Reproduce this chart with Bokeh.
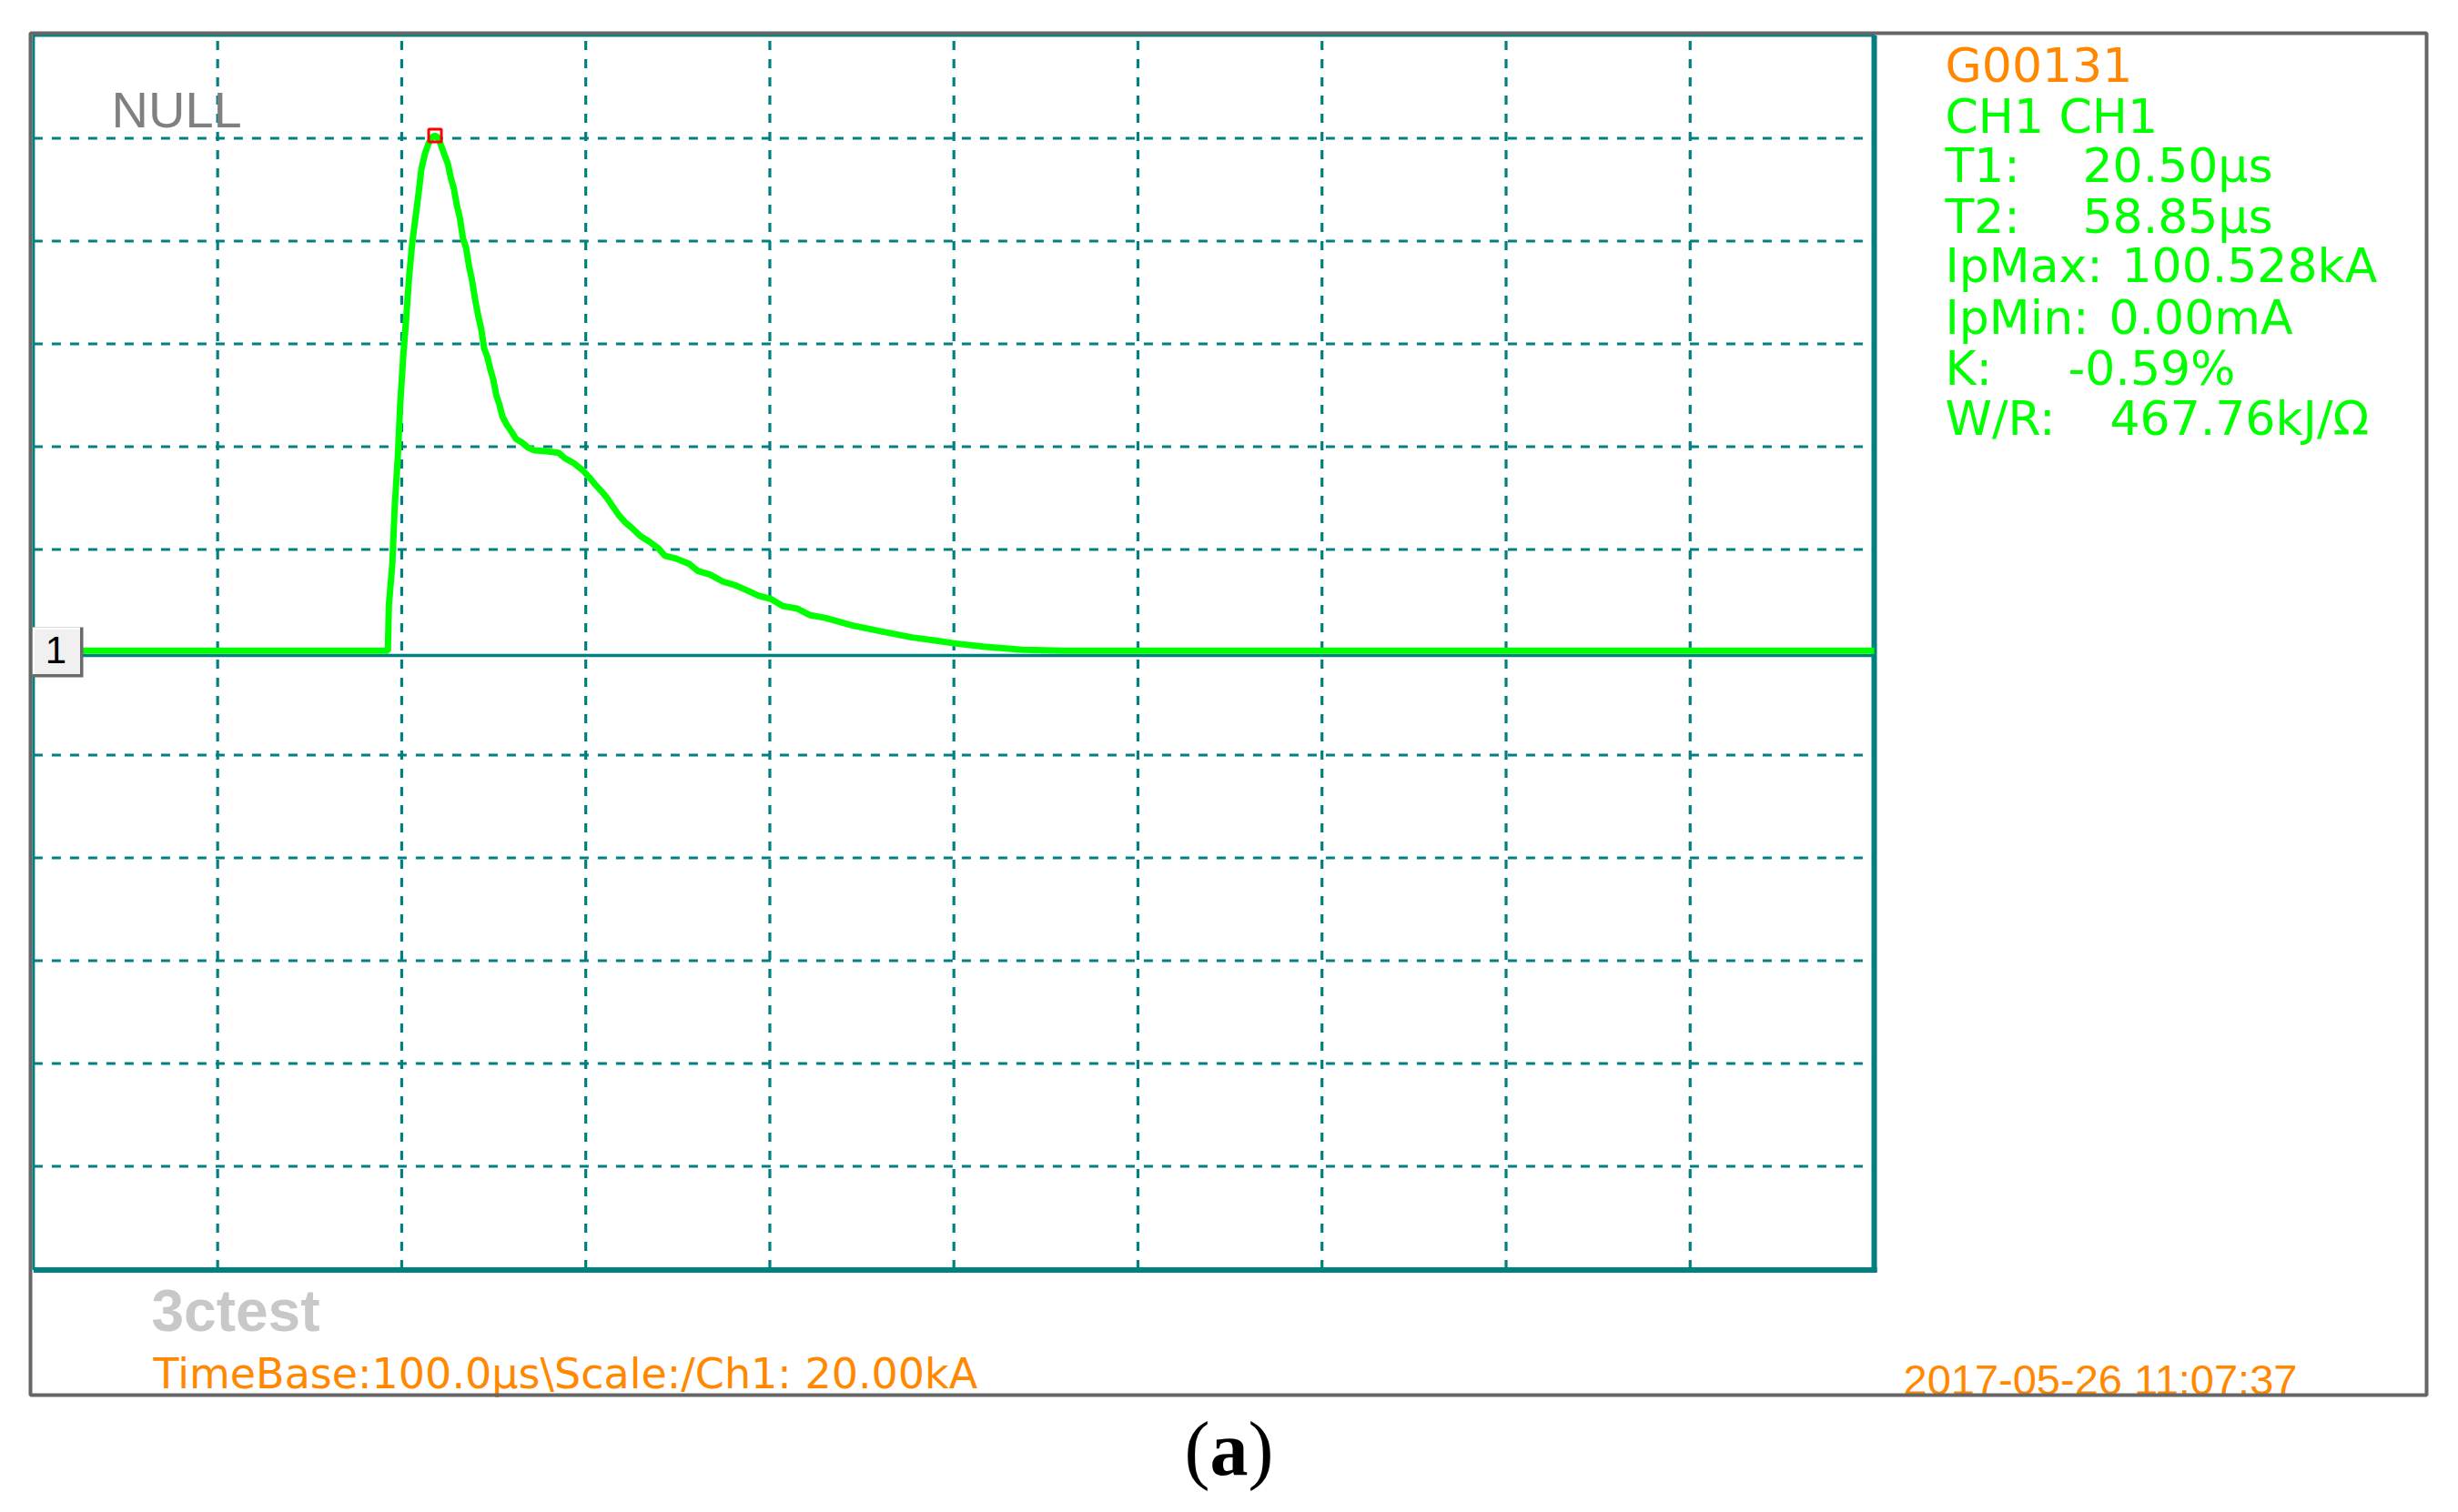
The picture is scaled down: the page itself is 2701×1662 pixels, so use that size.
from bokeh.plotting import figure
from bokeh.models import Range1d
from bokeh.core.properties import value
from bokeh.embed import file_html
from bokeh.resources import INLINE

# ---------------- data ----------------
time_us = [0.0, 192.5, 193.0, 194.9, 196.2, 197.9, 199.2, 200.8, 202.5, 204.1,
           205.8, 207.8, 209.4, 210.7, 212.7, 214.7, 216.8, 218.1, 219.3, 220.9,
           222.9, 225.1, 226.7, 228.3, 230.0, 231.6, 233.3, 234.9, 236.6, 238.2,
           239.9, 241.5, 243.2, 244.8, 246.5, 248.1, 249.8, 251.4, 253.0, 254.7,
           257.2, 259.7, 262.1, 265.4, 268.7, 272.0, 278.6, 285.2, 288.5, 293.4,
           298.4, 301.7, 305.0, 308.3, 311.6, 314.8, 318.1, 321.4, 324.7, 329.7,
           334.6, 339.5, 342.9, 349.4, 356.1, 361.0, 367.6, 374.2, 380.8, 387.3,
           393.9, 400.5, 407.1, 414.8, 422.0, 430.0, 445.1, 460.2, 477.2, 489.5,
           501.1, 515.9, 537.3, 560.0, 1000.0]
current_kA = [0.3, 0.3, 9.0, 17.2, 28.3, 38.1, 48.3, 57.4, 65.2, 73.4,
              79.9, 85.4, 90.0, 94.0, 97.1, 99.1, 100.3, 100.5, 100.3, 99.1,
              97.1, 95.0, 92.3, 90.3, 86.9, 84.5, 80.5, 78.8, 75.1, 72.4,
              68.6, 65.6, 62.9, 59.1, 57.5, 55.1, 53.0, 50.0, 48.3, 45.9,
              44.2, 42.9, 41.5, 40.8, 39.8, 39.3, 39.1, 38.8, 37.8, 36.8,
              35.4, 34.1, 32.7, 31.4, 30.0, 28.3, 26.6, 25.3, 24.3, 22.6,
              21.5, 20.2, 18.8, 18.2, 17.2, 15.8, 15.1, 13.8, 13.1, 12.1,
              11.0, 10.4, 9.0, 8.5, 7.2, 6.7, 5.2, 4.1, 2.9, 2.3,
              1.7, 1.1, 0.5, 0.3, 0.3]
peak_time_us = [218.1]
peak_kA = [100.528]

grid_time_us = [100, 200, 300, 400, 500, 600, 700, 800, 900]
grid_kA = [-100, -80, -60, -40, -20, 20, 40, 60, 80, 100]
time_span = [0, 1000]
kA_span = [-120, 120]

info_labels = ["T1:", "T2:", "IpMax:", "IpMin:", "K:", "W/R:"]
info_values = ["20.50\u00b5s", "58.85\u00b5s", "100.528kA", "0.00mA", "-0.59%", "467.76kJ/\u03a9"]

# ---------------- geometry (pixels of the picture) ----------------
W, H = 2693, 1654
OFF = 0
X0, SX = 36.4, 2.0226   # px of t=0, px per microsecond
Y0, SY = 716.5, 5.65    # px of 0 kA, px per kA
KB = 0.33               # baseline correction (fraction of font size)


def dx(X):
    return (X - X0) / SX


def dy(Y):
    return (Y0 - Y) / SY


TEAL = "#008080"
GREEN = "#00FF00"
ORANGE = "#FF8800"

p = figure(frame_width=W, frame_height=H, min_border=0,
           x_range=Range1d(dx(OFF), dx(OFF + W)),
           y_range=Range1d(dy(OFF + H), dy(OFF)),
           x_axis_location=None, y_axis_location=None,
           toolbar_location=None, output_backend="svg",
           outline_line_color=None,
           background_fill_color="white", border_fill_color="white")
p.grid.visible = False

# dashed graticule
n = len(grid_time_us)
p.segment(x0=grid_time_us, y0=[kA_span[0]] * n, x1=grid_time_us, y1=[kA_span[1]] * n,
          line_color=TEAL, line_width=3.2, line_dash="10 10")
m = len(grid_kA)
p.segment(x0=[time_span[0]] * m, y0=grid_kA, x1=[time_span[1]] * m, y1=grid_kA,
          line_color=TEAL, line_width=3.2, line_dash="10 10")

# zero reference line
base = dy(720)
p.line(x=time_span, y=[base, base], line_color=TEAL, line_width=3.4)

# scope frame
p.quad(left=[time_span[0]], right=[time_span[1]], bottom=[kA_span[0]], top=[kA_span[1]],
       fill_color=None, line_color=TEAL, line_width=3)
p.line(x=[time_span[0], dx(2062)], y=[dy(1395.5)] * 2, line_color=TEAL, line_width=6)
p.line(x=[dx(2059)] * 2, y=[kA_span[1], dy(1398)], line_color=TEAL, line_width=6)

# waveform
p.line(time_us, current_kA, line_color=GREEN, line_width=7)
p.scatter(peak_time_us, peak_kA, marker="square", size=14, fill_color=None,
          line_color="#FF0000", line_width=3)

# channel marker "1"
p.quad(left=[dx(35)], right=[dx(91)], top=[dy(689)], bottom=[dy(744)],
       fill_color="#6A6A6A", line_color=None)
p.quad(left=[dx(35)], right=[dx(87.5)], top=[dy(689)], bottom=[dy(740.5)],
       fill_color="white", line_color=None)
p.quad(left=[dx(37.5)], right=[dx(87.5)], top=[dy(691.5)], bottom=[dy(740.5)],
       fill_color="#F0F0F0", line_color=None)


def txt(X, Y, s, size, color, font="DejaVu Sans", align="left", style="normal"):
    p.text(x=[dx(X)], y=[dy(Y - KB * size)], text=[s], text_font=value(font),
           text_font_size=f"{size}px", text_color=color, text_align=align,
           text_baseline="alphabetic", text_font_style=style)


txt(61, 728, "1", 42, "black", font="Liberation Sans", align="center")
txt(122, 138, "NULL", 56, "#808080", font="Liberation Sans")

# right info panel
txt(2137, 89, "G00131", 52, ORANGE)
txt(2137, 145, "CH1 CH1", 52, GREEN)
baselines = [199, 255, 309, 366, 422, 477]
value_x = [2288, 2288, 2331, 2317, 2272, 2318]
for lab, val, yb, vx in zip(info_labels, info_values, baselines, value_x):
    txt(2137, yb, lab, 52, GREEN)
    txt(vx, yb, val, 52, GREEN)

# bottom strip
txt(166, 1462, "3ctest", 64, "#C8C8C8", font="Liberation Sans", style="bold")
txt(168, 1525, "TimeBase:100.0\u00b5s\\Scale:/Ch1: 20.00kA", 46, ORANGE)
txt(2091, 1532, "2017-05-26 11:07:37", 47, ORANGE, font="Liberation Sans")

# outer gray box
p.quad(left=[dx(33)], right=[dx(2666)], top=[dy(36)], bottom=[dy(1533)],
       fill_color=None, line_color="#666666", line_width=4)

# caption
txt(1329, 1620, "(", 84, "black", font="Liberation Serif", align="right")
txt(1350, 1620, "a", 84, "black", font="Liberation Serif", align="center", style="bold")
txt(1371, 1620, ")", 84, "black", font="Liberation Serif", align="left")

open("out.html", "w").write(file_html(p, INLINE))
